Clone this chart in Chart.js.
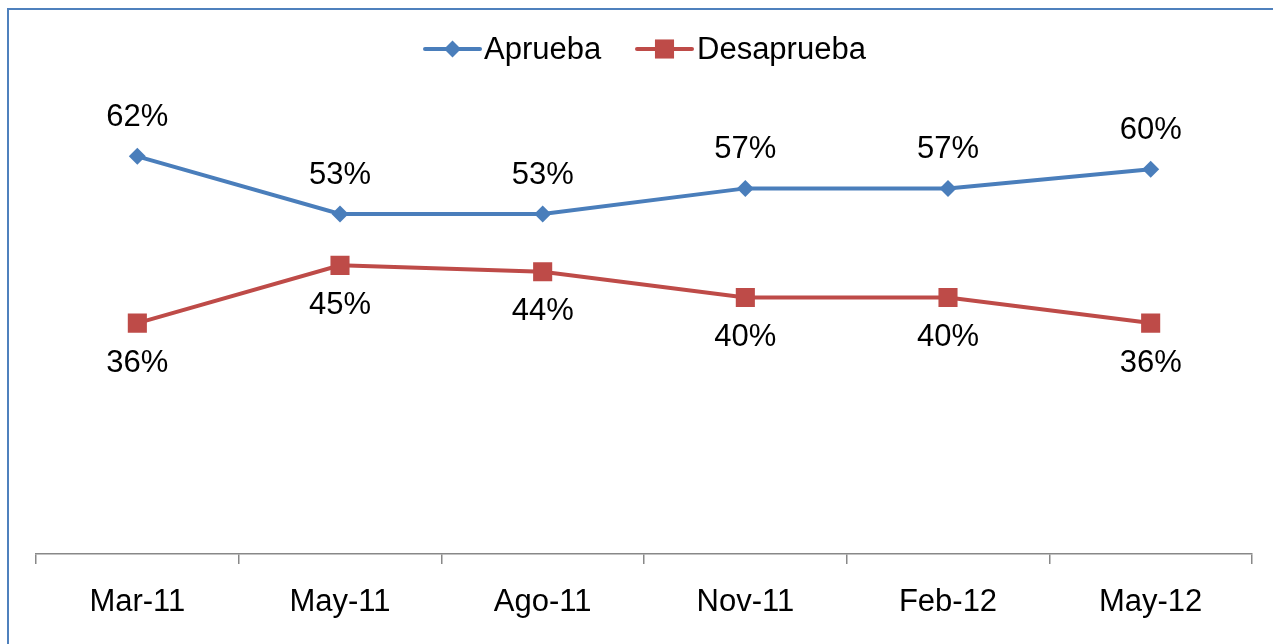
<!DOCTYPE html>
<html><head><meta charset="utf-8">
<script src="https://cdn.jsdelivr.net/npm/chart.js@4.4.0/dist/chart.umd.min.js"></script>
<style>
html,body{margin:0;padding:0;background:#fff;overflow:hidden;}
#wrap{position:absolute;left:0;top:0;width:1273px;height:644px;}
#frame{position:absolute;left:7px;top:8px;width:1300px;height:700px;border-left:2px solid #4F81BD;border-top:2px solid #4F81BD;box-sizing:border-box;}
canvas{position:absolute;left:0;top:0;}
</style></head>
<body>
<div id="wrap"><div id="frame"></div><canvas id="c" width="1273" height="644"></canvas></div>
<script>
const categories = ["Mar-11","May-11","Ago-11","Nov-11","Feb-12","May-12"];
const aprueba = [62,53,53,57,57,60];
const desaprueba = [36,45,44,40,40,36];
const seriesNames = ["Aprueba","Desaprueba"];
const FONT = "'Liberation Sans', Arial, sans-serif";
const BLUE = "#4A7EBB", RED = "#BE4B48";

const labelPlugin = {
  id:'labels',
  afterDatasetsDraw(chart){
    const ctx = chart.ctx;
    ctx.save();
    ctx.font = "31px " + FONT;
    ctx.fillStyle = "#000";
    ctx.textAlign = "center";
    ctx.textBaseline = "middle";
    chart.data.datasets.forEach((ds, i) => {
      const meta = chart.getDatasetMeta(i);
      meta.data.forEach((pt, j) => {
        const dy = i === 0 ? -39 : 40;
        ctx.fillText(ds.data[j] + "%", pt.x, pt.y + dy);
      });
    });
    ctx.restore();
  }
};
const legendPlugin = {
  id:'customLegend',
  afterDraw(chart){
    const ctx = chart.ctx;
    ctx.save();
    const y = 49;
    const items = [
      {x1:425, x2:480, color:BLUE, style:'rectRot', r:8.5, tx:484, name:seriesNames[0]},
      {x1:637, x2:692, color:RED, style:'rect', r:13.5, tx:697, name:seriesNames[1]}
    ];
    items.forEach(it => {
      ctx.strokeStyle = it.color; ctx.lineWidth = 4; ctx.lineCap = 'round';
      ctx.beginPath(); ctx.moveTo(it.x1, y); ctx.lineTo(it.x2, y); ctx.stroke();
      ctx.fillStyle = it.color;
      Chart.helpers.drawPoint(ctx, {pointStyle: it.style, radius: it.r, borderWidth:0}, (it.x1+it.x2)/2, y);
      ctx.fillStyle = "#000";
      ctx.font = "31px " + FONT;
      ctx.textBaseline = "middle"; ctx.textAlign = "left";
      ctx.fillText(it.name, it.tx, y + 1);
    });
    ctx.restore();
  }
};

new Chart(document.getElementById('c'), {
  type:'line',
  data:{
    labels: categories,
    datasets:[
      {label:seriesNames[0], data:aprueba, borderColor:BLUE, backgroundColor:BLUE, borderWidth:4,
       pointStyle:'rectRot', pointRadius:8.5, pointHoverRadius:8.5, pointBorderWidth:0, tension:0},
      {label:seriesNames[1], data:desaprueba, borderColor:RED, backgroundColor:RED, borderWidth:4,
       pointStyle:'rect', pointRadius:13.5, pointHoverRadius:13.5, pointBorderWidth:0, tension:0}
    ]
  },
  options:{
    responsive:false, animation:false, devicePixelRatio:1,
    layout:{padding:{top:105, left:36, right:21, bottom:0}},
    plugins:{legend:{display:false}, tooltip:{enabled:false}},
    scales:{
      x:{
        offset:true,
        grid:{offset:true, drawOnChartArea:false, drawTicks:true, tickLength:10, color:'#888', lineWidth:1.5},
        border:{color:'#888', width:1.5},
        ticks:{color:'#000', font:{family:FONT, size:31}, padding:20},
        afterFit(s){ s.height = 90; }
      },
      y:{display:false, min:0, max:70}
    }
  },
  plugins:[labelPlugin, legendPlugin]
});
</script>
</body></html>
